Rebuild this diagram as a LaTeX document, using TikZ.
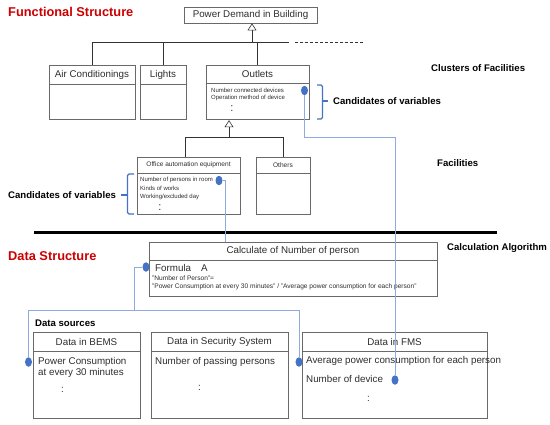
\documentclass[tikz,border=0pt]{standalone}
\usepackage{fontspec}
\setmainfont{Liberation Sans}
\usetikzlibrary{arrows.meta,shapes.geometric}
\definecolor{fred}{RGB}{204,0,0}
\definecolor{dotblue}{RGB}{68,114,196}
\definecolor{lineblue}{RGB}{143,170,220}
\definecolor{boxgray}{RGB}{105,105,105}
\definecolor{txtgray}{RGB}{45,45,45}
\begin{document}
\begin{tikzpicture}[x=1pt,y=-1pt,
  box/.style={draw=boxgray, line width=0.8pt, inner sep=0pt, text=txtgray},
  hd/.style={box, font=\fontsize{9.8}{11}\selectfont},
  hdsm/.style={box, font=\fontsize{6.6}{8}\selectfont},
  ttl/.style={font=\bfseries\fontsize{12.8}{15}\selectfont, text=fred, inner sep=0pt, anchor=west},
  lbl/.style={font=\bfseries\fontsize{9.6}{11}\selectfont, inner sep=0pt, anchor=west},
  sm/.style={font=\fontsize{6}{7}\selectfont, inner sep=0pt, anchor=west, text=txtgray},
  fsm/.style={font=\fontsize{6.6}{8}\selectfont, inner sep=0pt, anchor=west, text=txtgray},
  md/.style={font=\fontsize{9.8}{11}\selectfont, inner sep=0pt, anchor=west, text=txtgray},
  ddot/.style={font=\fontsize{11}{12}\selectfont, inner sep=0pt, text=txtgray, anchor=base},
  vdot/.style={ellipse, fill=dotblue, minimum width=7pt, minimum height=9.5pt, inner sep=0pt},
  conn/.style={draw=lineblue, line width=0.7pt},
  hier/.style={draw=black!80, line width=0.6pt},
  gen/.style={-{Triangle[open,width=9pt,length=7pt]}},
  bracebl/.style={draw=dotblue, line width=1.3pt, rounded corners=1.5pt}
]
\useasboundingbox (0,0) rectangle (550,424);

% ---------- titles and labels ----------
\node[ttl] (t-fs) at (8,12) {Functional Structure};
\node[ttl] (t-ds) at (8,256) {Data Structure};
\node[lbl] (l-cf) at (431,68) {Clusters of Facilities};
\node[lbl] (l-cv1) at (333,101) {Candidates of variables};
\node[lbl] (l-fa) at (437,163) {Facilities};
\node[lbl] (l-cv2) at (8,195) {Candidates of variables};
\node[lbl] (l-ca) at (447,248) {Calculation Algorithm};
\node[lbl] (l-dsrc) at (35,323) {Data sources};

% ---------- functional boxes ----------
\node[hd, minimum width=133pt, minimum height=16pt] (pd) at (250.5,15) {Power Demand in Building};

\node[hd, minimum width=86pt, minimum height=19pt] (ac-h) at (92,74.5) {Air Conditionings};
\node[box, minimum width=86pt, minimum height=35pt, anchor=north] (ac-b) at (ac-h.south) {};
\node[hd, minimum width=46pt, minimum height=19pt] (li-h) at (163,74.5) {Lights};
\node[box, minimum width=46pt, minimum height=35pt, anchor=north] (li-b) at (li-h.south) {};
\node[hd, minimum width=103pt, minimum height=18pt] (out-h) at (257.5,74) {Outlets};
\node[box, minimum width=103pt, minimum height=36pt, anchor=north] (out-b) at (out-h.south) {};

\node[hdsm, minimum width=103pt, minimum height=16pt] (oa-h) at (188.5,165) {Office automation equipment};
\node[box, minimum width=103pt, minimum height=41pt, anchor=north] (oa-b) at (oa-h.south) {};
\node[hdsm, minimum width=54pt, minimum height=16pt] (ot-h) at (283,165) {Others};
\node[box, minimum width=54pt, minimum height=41pt, anchor=north] (ot-b) at (ot-h.south) {};

% body texts
\node[sm] (o1) at (211,90) {Number connected devices};
\node[sm] (o2) at (211,98) {Operation method of device};
\node[ddot] (o3) at (232,111.7) {:};

\node[sm] (f1) at (140,180) {Number of persons in room};
\node[sm] (f2) at (140,188.5) {Kinds of works};
\node[sm] (f3) at (140,197) {Working/excluded day};
\node[ddot] (f4) at (160,210.7) {:};

% ---------- hierarchy ----------
\coordinate (j1) at (252,42);
\coordinate (busR) at (289,42);
\coordinate (dashA) at (295,42);
\coordinate (dashB) at (363,42);
\draw[hier, gen] (j1) -- (j1 |- pd.south);
\draw[hier] (ac-h.north) |- (busR);
\draw[hier] (li-h.north) -- (li-h.north |- busR);
\draw[hier] (out-h.north) -- (out-h.north |- busR);
\draw[hier, dash pattern=on 3pt off 2pt] (dashA) -- (dashB);

\coordinate (j2) at (229,137);
\coordinate (j2L) at (185,137);
\draw[hier, gen] (j2) -- (j2 |- out-b.south);
\draw[hier] (j2L |- oa-h.north) |- (ot-h.north |- j2) -- (ot-h.north);

% ---------- separator ----------
\coordinate (sepL) at (34,232);
\coordinate (sepR) at (497,232);
\draw[line width=3pt] (sepL) -- (sepR);

% ---------- data structure boxes ----------
\node[hd, minimum width=288pt, minimum height=18pt] (calc-h) at (293,251) {Calculate of Number of person};
\node[box, minimum width=288pt, minimum height=36pt, anchor=north] (calc-b) at (calc-h.south) {};
\node[md] (c1) at (155,268) {Formula\hspace{10pt}A};
\node[fsm] (c2) at (152,278) {"Number of Person"=};
\node[fsm] (c3) at (152,286.5) {"Power Consumption at every 30 minutes" / "Average power consumption for each person"};

\node[hd, minimum width=107pt, minimum height=19pt] (bems-h) at (86.5,341.5) {Data in BEMS};
\node[box, minimum width=107pt, minimum height=67pt, anchor=north] (bems-b) at (bems-h.south) {};
\node[hd, minimum width=137pt, minimum height=19pt] (sec-h) at (219.5,341.5) {Data in Security System};
\node[box, minimum width=137pt, minimum height=67pt, anchor=north] (sec-b) at (sec-h.south) {};
\node[hd, minimum width=185pt, minimum height=19pt] (fms-h) at (394.5,341.5) {Data in FMS};
\node[box, minimum width=185pt, minimum height=67pt, anchor=north] (fms-b) at (fms-h.south) {};

\node[md] (b1) at (38,362) {Power Consumption};
\node[md] (b2) at (38,373) {at every 30 minutes};
\node[md] (b3) at (61,390) {:};
\node[md] (s1) at (155,362) {Number of passing persons};
\node[md] (s2) at (198,388) {:};
\node[md] (m1) at (306,361) {Average power consumption for each person};
\node[md] (m2) at (306,379) {Number of device};
\node[md] (m3) at (367,399) {:};

% ---------- brackets ----------
\draw[bracebl] (317,85) -- (322.5,85) -- (322.5,119) -- (317,119);
\draw[bracebl] (322.5,101) -- (328,101);
\draw[bracebl] (134,174) -- (127.5,174) -- (127.5,214) -- (134,214);
\draw[bracebl] (127.5,195) -- (121,195);

% ---------- variable dots ----------
\node[vdot] (d-out) at (304.5,90.5) {};
\node[vdot] (d-oa) at (219,180.5) {};
\node[vdot] (d-f) at (146,267) {};
\node[vdot] (d-bems) at (28.5,362) {};
\node[vdot] (d-fa) at (299,362) {};
\node[vdot] (d-fn) at (395,380) {};

% ---------- links ----------
\coordinate (k1) at (304.5,137);
\draw[conn] (d-out.south) -- (k1) -| (d-fn.north);
\coordinate (k2) at (225,180.5);
\draw[conn] (d-oa.east) -- (k2) -- (k2 |- calc-h.north);
\coordinate (k3) at (134,310);
\draw[conn] (d-f.west) -| (k3);
\draw[conn] (d-bems.north) |- (k3);
\draw[conn] (d-fa.north) |- (k3);
\end{tikzpicture}
\end{document}
